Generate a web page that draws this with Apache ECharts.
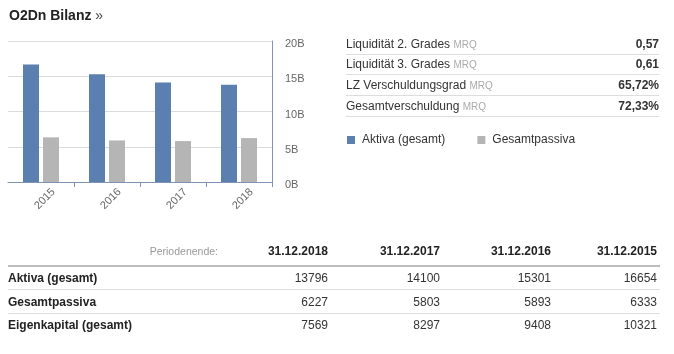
<!DOCTYPE html>
<html>
<head>
<meta charset="utf-8">
<script src="https://cdn.jsdelivr.net/npm/echarts@6/dist/echarts.min.js"></script>
<style>
  html, body { margin: 0; padding: 0; background: #fff; }
  body { width: 674px; height: 354px; position: relative; overflow: hidden;
         font-family: 'Liberation Sans', Arial, sans-serif; color: #333; }
  #chart { position: absolute; left: 0; top: 0; width: 674px; height: 354px; }
  .abs { position: absolute; white-space: nowrap; }
  .title { left: 9px; top: 5px; font-size: 14px; font-weight: bold; color: #222; line-height: 20px; }
  .title span { font-weight: normal; color: #444; }
  .rrow { position: absolute; left: 346px; width: 313px; border-bottom: 1px solid #ddd; font-size: 12px; }
  .rrow .lab { position: absolute; left: 0; top: 0; }
  .rrow .lab small { font-size: 10px; color: #aaa; }
  .rrow .val { position: absolute; right: 0; top: 0; font-weight: bold; color: #333; }
  .cell { position: absolute; font-size: 12px; line-height: 20px; height: 20px; white-space: nowrap; }
  .hline { position: absolute; left: 8px; width: 652px; }
</style>
</head>
<body>
<div id="chart"></div>
<div class="abs title">O2Dn Bilanz <span>»</span></div>
<div id="ratios"></div>
<div id="table"></div>
<script>
// ---- data ----
const years = ['2015', '2016', '2017', '2018'];
const aktiva = [16654, 15301, 14100, 13796];
const passiva = [6333, 5893, 5803, 6227];
const eigenkapital = [10321, 9408, 8297, 7569];
const periods = ['31.12.2015', '31.12.2016', '31.12.2017', '31.12.2018'];
const seriesNames = ['Aktiva (gesamt)', 'Gesamtpassiva', 'Eigenkapital (gesamt)'];
const ratioLabels = ['Liquidität 2. Grades', 'Liquidität 3. Grades', 'LZ Verschuldungsgrad', 'Gesamtverschuldung'];
const ratioValues = ['0,57', '0,61', '65,72%', '72,33%'];
const ratioSuffix = 'MRQ';
const periodLabel = 'Periodenende:';

// ---- ratios table (right) ----
const ratioTops = [34, 55, 75, 96];
const ratioHeights = [20, 19, 20, 20];
const rDiv = document.getElementById('ratios');
ratioLabels.forEach((l, i) => {
  const d = document.createElement('div');
  d.className = 'rrow';
  d.style.top = ratioTops[i] + 'px';
  d.style.height = ratioHeights[i] + 'px';
  d.style.lineHeight = ratioHeights[i] + 'px';
  d.innerHTML = '<span class="lab">' + l + ' <small>' + ratioSuffix + '</small></span><span class="val">' + ratioValues[i] + '</span>';
  rDiv.appendChild(d);
});

// ---- bottom table ----
const tDiv = document.getElementById('table');
const colRights = [218, 328, 440, 551, 657];
function cell(text, top, right, style) {
  const d = document.createElement('div');
  d.className = 'cell';
  d.style.top = top + 'px';
  if (right === null) { d.style.left = '8px'; } else { d.style.right = (674 - right) + 'px'; }
  Object.assign(d.style, style || {});
  d.textContent = text;
  tDiv.appendChild(d);
}
function hline(top, h, color) {
  const d = document.createElement('div');
  d.className = 'hline';
  d.style.top = top + 'px';
  d.style.height = h + 'px';
  d.style.background = color;
  tDiv.appendChild(d);
}
const headTop = 241;
cell(periodLabel, headTop, colRights[0], { fontSize: '10.5px', color: '#999' });
const revPeriods = periods.slice().reverse();
revPeriods.forEach((p, i) => cell(p, headTop, colRights[i + 1], { fontWeight: 'bold', color: '#222' }));
hline(265, 2, '#bdbdbd');
const rowData = [aktiva, passiva, eigenkapital];
const rowTops = [268, 292, 315];
const lineTops = [289, 313];
rowData.forEach((arr, r) => {
  cell(seriesNames[r], rowTops[r], null, { fontWeight: 'bold', color: '#222' });
  arr.slice().reverse().forEach((v, i) => cell(String(v), rowTops[r], colRights[i + 1], { color: '#333' }));
  if (r < lineTops.length) hline(lineTops[r], 1, '#dddddd');
});

// ---- chart ----
const chart = echarts.init(document.getElementById('chart'), null, { renderer: 'canvas' });
const axisColor = '#7d94b3';
chart.setOption({
  animation: false,
  textStyle: { fontFamily: "'Liberation Sans', Arial, sans-serif" },
  grid: { left: 8, right: 402, top: 41, bottom: 172, containLabel: false },
  legend: {
    left: 347, top: 134, padding: 0, itemWidth: 8, itemHeight: 8, icon: 'rect', itemGap: 32,
    data: [seriesNames[0], seriesNames[1]],
    textStyle: { fontSize: 12, color: '#333', padding: [0, 0, 0, 2] }
  },
  xAxis: {
    type: 'category', data: years,
    axisLine: { lineStyle: { color: axisColor, width: 1 } },
    axisTick: { show: true, length: 5, interval: (i) => i > 0, lineStyle: { color: axisColor } },
    axisLabel: { rotate: 45, align: 'center', verticalAlign: 'top', margin: 13, fontSize: 11, color: '#666' }
  },
  yAxis: {
    type: 'value', position: 'right', min: 0, max: 20000, interval: 5000,
    axisLine: { show: true, lineStyle: { color: axisColor, width: 1 } },
    axisTick: { show: false },
    splitLine: { lineStyle: { color: '#dcdcdc' } },
    axisLabel: {
      margin: 13, fontSize: 11, color: '#666',
      formatter: v => '{t|' + (v / 1000) + 'B}',
      rich: { t: { fontSize: 11, color: '#666', padding: [6, 0, 0, 0] } }
    }
  },
  series: [
    { name: seriesNames[0], type: 'bar', data: aktiva, barWidth: 16, barGap: '25%', itemStyle: { color: '#5b7fae' } },
    { name: seriesNames[1], type: 'bar', data: passiva, barWidth: 16, barGap: '25%', itemStyle: { color: '#b5b5b5' } }
  ]
});
</script>
</body>
</html>
